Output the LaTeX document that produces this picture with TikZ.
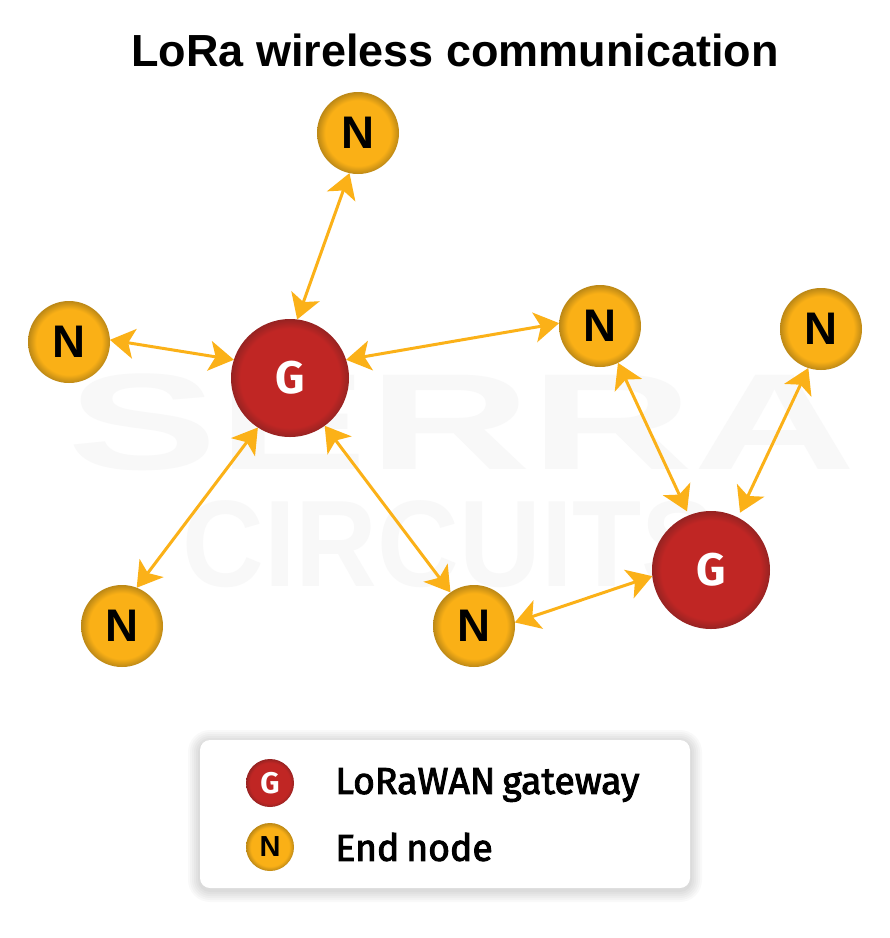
\documentclass[tikz,border=0pt]{standalone}
\usepackage{xcolor}
\usepackage{fontspec}
\setmainfont{Liberation Sans}
\newfontfamily\legendfont[FakeBold=2.5,WordSpace=0.7]{Fira Sans}
\newfontfamily\letterfont{Fira Sans}
\usetikzlibrary{arrows.meta}
\definecolor{gwred}{HTML}{C02624}
\definecolor{gwrim}{HTML}{962322}
\definecolor{ndyellow}{HTML}{FAB016}
\definecolor{ndrim}{HTML}{BC8816}
\definecolor{linkcol}{HTML}{FBB118}
\definecolor{markcol}{HTML}{F8F8F8}
\pgfdeclareradialshading{gwshade}{\pgfpoint{0bp}{0bp}}{color(0bp)=(gwred); color(21bp)=(gwred); color(25bp)=(gwrim); color(50bp)=(gwrim)}
\pgfdeclareradialshading{ndshade}{\pgfpoint{0bp}{0bp}}{color(0bp)=(ndyellow); color(20bp)=(ndyellow); color(25bp)=(ndrim); color(50bp)=(ndrim)}
\tikzset{
	gateway/.style={circle,shading=gwshade,minimum size=118*0.02cm,inner sep=0pt,outer sep=0pt,text=white,font=\fontsize{26}{26}\selectfont\letterfont\bfseries},
	endnode/.style={circle,shading=ndshade,minimum size=82*0.02cm,inner sep=0pt,outer sep=0pt,text=black,font=\fontsize{26}{26}\selectfont\bfseries},
	smallgw/.style={gateway,minimum size=48*0.02cm,font=\fontsize{17}{17}\selectfont\letterfont\bfseries},
	smallnd/.style={endnode,minimum size=48*0.02cm,font=\fontsize{16.5}{16.5}\selectfont\bfseries},
	link/.style={draw=linkcol,line width=1.7pt,{Stealth[length=14pt,width=17pt,inset=3.5pt]}-{Stealth[length=14pt,width=17pt,inset=3.5pt]}},
	legendtext/.style={anchor=west,inner sep=0pt,font=\fontsize{21.3}{21.3}\selectfont\legendfont},
	watermark/.style={text=markcol,inner sep=0pt,font=\fontsize{78}{78}\selectfont\bfseries}
}
\begin{document}
\begin{tikzpicture}[x=0.02cm,y=-0.02cm]
	\useasboundingbox[fill=white] (0,0) rectangle (890,938);
	\node[watermark] (markA) at (462,422) {\scalebox{1.645}[1]{SERRA}};
	\node[watermark,font=\fontsize{70}{70}\selectfont\bfseries] (markB) at (450,544) {\scalebox{0.92}[1]{CIRCUITS}};
	\node[inner sep=0pt,font=\fontsize{25.6}{25.6}\selectfont\bfseries] (title) at (455,50) {LoRa wireless communication};
	\node[gateway] (gwA) at (290,378) {G};
	\node[gateway] (gwB) at (711,570) {G};
	\node[endnode] (ndTop) at (358,133) {N};
	\node[endnode] (ndLeft) at (69,342) {N};
	\node[endnode] (ndMid) at (600,326) {N};
	\node[endnode] (ndRight) at (821,329) {N};
	\node[endnode] (ndLow) at (122,626) {N};
	\node[endnode] (ndCen) at (474,626) {N};
	\draw[link] (ndTop.258) -- (gwA.83);
	\draw[link] (ndLeft.3) -- (gwA.162);
	\draw[link] (ndMid.176) -- (gwA.18);
	\draw[link] (ndLow.69) -- (gwA.237);
	\draw[link] (ndCen.125) -- (gwA.-54);
	\draw[link,shorten >=2.5pt] (ndMid.-64) -- (gwB.112);
	\draw[link,shorten >=3pt] (ndRight.252) -- (gwB.63);
	\draw[link] (ndCen.5) -- (gwB.186);
	\foreach \s in {12,10,...,2}
		\fill[black,opacity=0.022,rounded corners=(10+\s)*0.02cm] (200-\s,740-\s+2) rectangle (690+\s,888+\s+2);
	\node[draw=none,fill=white,rounded corners=10*0.02cm,minimum width=490*0.02cm,minimum height=148*0.02cm,inner sep=0pt] (legend) at (445,814) {};
	\node[smallgw] (keyG) at (270,783) {G};
	\node[smallnd] (keyN) at (270,847) {N};
	\node[legendtext] (textG) at (335,785) {LoRaWAN gateway};
	\node[legendtext] (textN) at (335,847) {End node};
\end{tikzpicture}
\end{document}
